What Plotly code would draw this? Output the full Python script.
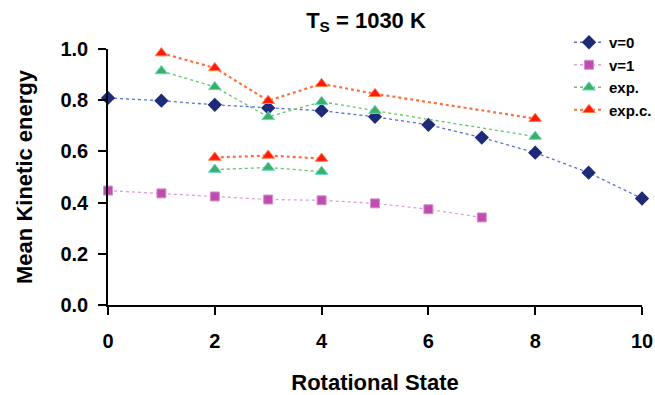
import plotly.graph_objects as go

states = [0, 1, 2, 3, 4, 5, 6, 7, 8, 9, 10]
v0 = [0.809, 0.798, 0.782, 0.770, 0.759, 0.735, 0.704, 0.654, 0.595, 0.517, 0.416]
v1_x = [0, 1, 2, 3, 4, 5, 6, 7]
v1 = [0.447, 0.436, 0.424, 0.412, 0.409, 0.397, 0.374, 0.342]
exp_x = [1, 2, 3, 4, 5, 8, None, 2, 3, 4]
exp_y = [0.914, 0.852, 0.735, 0.794, 0.759, 0.658, None, 0.529, 0.537, 0.521]
expc_x = [1, 2, 3, 4, 5, 8, None, 2, 3, 4]
expc_y = [0.984, 0.926, 0.798, 0.864, 0.825, 0.728, None, 0.576, 0.584, 0.572]

x_ticks = [0, 2, 4, 6, 8, 10]
y_ticks = [0, 0.2, 0.4, 0.6, 0.8, 1.0]

FONT = "Liberation Sans, Arial, sans-serif"

fig = go.Figure()
fig.add_trace(go.Scatter(x=states, y=v0, name="<b>v=0</b>", mode="lines+markers",
                         legendgroup="a",
                         line=dict(color="#5a6fd0", width=1.3, dash="dot"),
                         marker=dict(symbol="diamond", size=11, color="#1c2a78",
                                     line=dict(color="#1c2a78", width=0))))
fig.add_trace(go.Scatter(x=v1_x, y=v1, name="<b>v=1</b>", mode="lines+markers",
                         legendgroup="b",
                         line=dict(color="#e0a0dc", width=1.3, dash="dot"),
                         marker=dict(symbol="square", size=9, color="#c04cb0",
                                     line=dict(color="#d890d0", width=1))))
fig.add_trace(go.Scatter(x=exp_x, y=exp_y, name="<b>exp.</b>", mode="lines+markers",
                         legendgroup="c",
                         line=dict(color="#60c860", width=1.3, dash="dot"),
                         marker=dict(symbol="triangle-up", size=11, color="#3cb060",
                                     line=dict(color="#60d8d0", width=1)),
                         connectgaps=False))
fig.add_trace(go.Scatter(x=expc_x, y=expc_y, name="<b>exp.c.</b>", mode="lines+markers",
                         legendgroup="d",
                         line=dict(color="#ff7040", width=2.2, dash="dot"),
                         marker=dict(symbol="triangle-up", size=11, color="#ff1a0a",
                                     line=dict(color="#ff8050", width=1)),
                         connectgaps=False))

fig.update_traces(cliponaxis=False)

fig.update_layout(
    width=655, height=395,
    margin=dict(l=108, r=13, t=49, b=90, autoexpand=False),
    paper_bgcolor="white", plot_bgcolor="white",
    font=dict(family=FONT, color="black", size=15),
    title=dict(text="<b>T<sub>S</sub> = 1030 K</b>", xref="container", x=366 / 655,
               xanchor="center", yref="container", y=1 - 20 / 395, yanchor="middle",
               font=dict(size=22, family=FONT)),
    showlegend=True,
    legend=dict(xref="container", x=569 / 655, xanchor="left",
                yref="container", y=1 - 26 / 395, yanchor="top",
                bgcolor="rgba(0,0,0,0)", font=dict(size=15, family=FONT),
                tracegroupgap=0),
)
fig.update_xaxes(range=[0, 10], tickvals=x_ticks,
                 ticktext=["<b>%d</b>" % v for v in x_ticks],
                 showgrid=False, zeroline=False, showline=True, linecolor="black",
                 linewidth=1.6, ticks="outside", ticklen=8, tickwidth=1.6, tickcolor="black",
                 tickfont=dict(size=20), ticklabelstandoff=9, automargin=False,
                 title=dict(text="<b>Rotational State</b>", font=dict(size=22), standoff=28))
fig.update_yaxes(range=[0, 1.0], tickvals=y_ticks,
                 ticktext=["<b>%.1f</b>" % v for v in y_ticks],
                 showgrid=False, zeroline=False, showline=True, linecolor="black",
                 linewidth=1.6, ticks="outside", ticklen=8, tickwidth=1.6, tickcolor="black",
                 tickfont=dict(size=20), ticklabelstandoff=6, automargin=False,
                 title=dict(text="<b>Mean Kinetic energy</b>", font=dict(size=22), standoff=22))

fig.write_html("out.html")
